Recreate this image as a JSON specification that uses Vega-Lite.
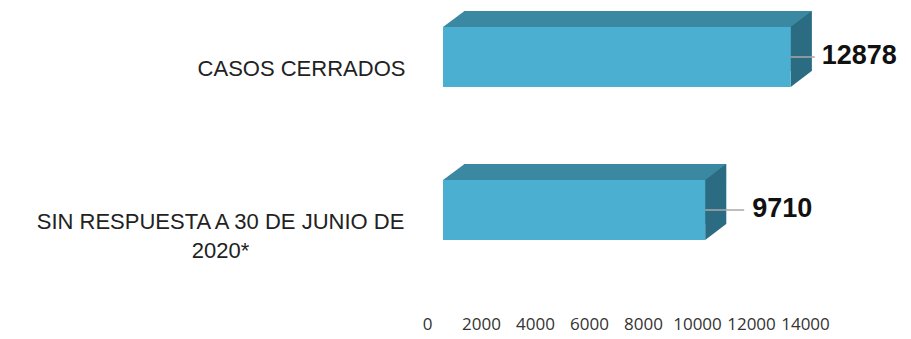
{
  "$schema": "https://vega.github.io/schema/vega-lite/v6.json",
  "width": 378,
  "height": 247,
  "autosize": {"type": "none"},
  "padding": {"left": 443, "top": 10, "right": 90, "bottom": 82},
  "background": "white",
  "config": {"view": {"stroke": null}},
  "data": {
    "values": [
      {"categoria": "CASOS CERRADOS", "valor": 12878},
      {"categoria": "SIN RESPUESTA A 30 DE JUNIO DE 2020*", "valor": 9710}
    ]
  },
  "encoding": {
    "y": {
      "field": "categoria",
      "type": "nominal",
      "sort": null,
      "scale": {"paddingInner": 0.608, "paddingOuter": 0.111},
      "axis": {
        "title": null,
        "domain": false,
        "ticks": false,
        "tickSize": 0,
        "labelFont": "Liberation Sans",
        "labelFontSize": 22,
        "labelColor": "#222222",
        "labelAlign": "center",
        "labelBaseline": "middle",
        "labelLineHeight": 29,
        "labelOffset": 12,
        "labelLimit": 500,
        "labelOverlap": false,
        "labelPadding": {"condition": {"test": "datum.value == 'CASOS CERRADOS'", "value": 142}, "value": 223},
        "labelExpr": "datum.value == 'SIN RESPUESTA A 30 DE JUNIO DE 2020*' ? ['SIN RESPUESTA A 30 DE JUNIO DE', '2020*'] : datum.label"
      }
    },
    "x": {
      "field": "valor",
      "type": "quantitative",
      "scale": {"domain": [0, 14000], "nice": false},
      "axis": {
        "title": null,
        "domain": false,
        "ticks": false,
        "grid": false,
        "values": [0, 2000, 4000, 6000, 8000, 10000, 12000, 14000],
        "format": "d",
        "labelFont": "Open Sans",
        "labelFontSize": 17,
        "labelColor": "#333333",
        "labelPadding": 59,
        "labelOffset": -16,
        "labelOverlap": false,
        "labelFlush": false
      }
    }
  },
  "layer": [
    {
      "mark": {"type": "bar", "color": "#3b88a2", "xOffset": 21, "x2Offset": 21, "yOffset": -16, "y2Offset": -16}
    },
    {
      "mark": {"type": "point", "shape": "M0,-0.6L0.43,-0.92L0.43,-0.58L0,-0.58Z", "size": 10000, "filled": true, "color": "#3b88a2", "opacity": 1, "strokeWidth": 0},
      "encoding": {"x": {"datum": 0}}
    },
    {
      "mark": {"type": "point", "shape": "M0,-0.6L0.42,-0.92L0.42,0.28L0,0.6Z", "size": 10000, "filled": true, "color": "#2c6c82", "opacity": 1, "strokeWidth": 0}
    },
    {
      "mark": {"type": "bar", "color": "#4bafd2"}
    },
    {
      "mark": {"type": "rule", "color": "#a8a8a8", "strokeWidth": 1.5, "x2Offset": {"expr": "datum.valor > 10000 ? 24 : 39"}},
      "encoding": {"x2": {"field": "valor"}}
    },
    {
      "mark": {"type": "text", "align": "left", "baseline": "middle", "dx": {"expr": "datum.valor > 10000 ? 31 : 47"}, "dy": -1, "font": "Liberation Sans", "fontSize": 27, "fontWeight": "bold", "color": "#111111"},
      "encoding": {"text": {"field": "valor", "type": "quantitative", "format": "d"}}
    }
  ]
}
